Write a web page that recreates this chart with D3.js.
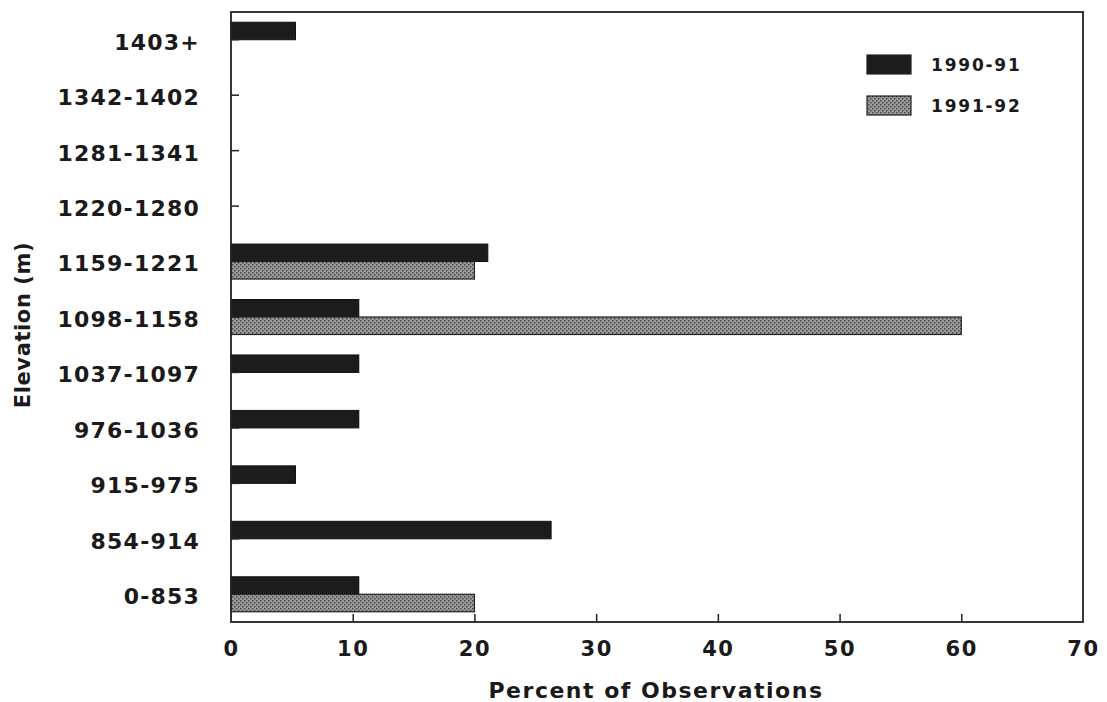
<!DOCTYPE html>
<html><head><meta charset="utf-8">
<script src="https://cdn.jsdelivr.net/npm/d3@7"></script>
<style>
html,body{margin:0;padding:0;background:#fff;}
text{font-family:"DejaVu Sans",sans-serif;font-weight:bold;fill:#1a1a1a;}
</style></head>
<body><svg id="c" width="1107" height="702"></svg>
<script>
const categories = ["1403+","1342-1402","1281-1341","1220-1280","1159-1221","1098-1158","1037-1097","976-1036","915-975","854-914","0-853"];
const series1Name = "1990-91";
const series2Name = "1991-92";
const values1990 = [5.3, 0, 0, 0, 21.1, 10.5, 10.5, 10.5, 5.3, 26.3, 10.5];
const values1991 = [0, 0, 0, 0, 20, 60, 0, 0, 0, 0, 20];
const xTicks = [0,10,20,30,40,50,60,70];

const svg = d3.select("#c");
const L = 231, R = 1083, T = 12, B = 622;
const x = d3.scaleLinear().domain([0,70]).range([L,R]);
const y = d3.scaleBand().domain(categories).range([T,B]);
const barH = 17.5;

const defs = svg.append("defs");
const pat = defs.append("pattern").attr("id","hatch").attr("patternUnits","userSpaceOnUse")
  .attr("width",4).attr("height",4);
pat.append("rect").attr("width",4).attr("height",4).attr("fill","#9a9a9a");
pat.append("rect").attr("x",0).attr("y",0).attr("width",1.5).attr("height",1.5).attr("fill","#4a4a4a");
pat.append("rect").attr("x",2).attr("y",2).attr("width",1.5).attr("height",1.5).attr("fill","#4a4a4a");

// bars
const data = categories.map((c,i)=>({c, a:values1990[i], b:values1991[i]}));
const g = svg.append("g");
g.selectAll(".b1").data(data.filter(d=>d.a>0)).join("rect")
  .attr("x",x(0)).attr("y",d=>y(d.c)+y.bandwidth()/2-barH)
  .attr("width",d=>x(d.a)-x(0)).attr("height",barH)
  .attr("fill","#1c1c1c").attr("stroke","#111").attr("stroke-width",1);
g.selectAll(".b2").data(data.filter(d=>d.b>0)).join("rect")
  .attr("x",x(0)).attr("y",d=>y(d.c)+y.bandwidth()/2)
  .attr("width",d=>x(d.b)-x(0)).attr("height",barH)
  .attr("fill","url(#hatch)").attr("stroke","#222").attr("stroke-width",1.2);

// frame
svg.append("rect").attr("x",L).attr("y",T).attr("width",R-L).attr("height",B-T)
  .attr("fill","none").attr("stroke","#222").attr("stroke-width",1.8);

// x axis
const xa = svg.append("g").attr("transform",`translate(0,${B})`)
  .call(d3.axisBottom(x).tickValues(xTicks).tickSize(-8).tickPadding(19).tickFormat(d3.format("d")));
xa.select(".domain").remove();
xa.selectAll(".tick line").attr("stroke","#222").attr("stroke-width",1.5)
  .filter(d=>d===0||d===70).remove();
xa.selectAll(".tick text").attr("font-size","21px").style("letter-spacing","1.6px").attr("fill","#1a1a1a").attr("dy","0.72em");

// y axis
const ya = svg.append("g").attr("transform",`translate(${L},0)`)
  .call(d3.axisLeft(y).tickSize(-8).tickPadding(31));
ya.select(".domain").remove();
ya.selectAll(".tick line").attr("stroke","#222").attr("stroke-width",1.5);
ya.selectAll(".tick text").attr("font-size","22px").style("letter-spacing","1.2px").attr("fill","#1a1a1a").attr("dy","0.45em");

// axis titles
svg.append("text").attr("x",656).attr("y",698).attr("text-anchor","middle")
  .attr("font-size","22px").style("letter-spacing","1.5px").text("Percent of Observations");
svg.append("text").attr("transform","translate(30,325) rotate(-90)").attr("text-anchor","middle")
  .attr("font-size","21px").style("letter-spacing","0.6px").text("Elevation (m)");

// legend
const leg = svg.append("g");
const items = [{n:series1Name, f:"#1c1c1c", y0:55},{n:series2Name, f:"url(#hatch)", y0:96}];
items.forEach(it=>{
  leg.append("rect").attr("x",867).attr("y",it.y0).attr("width",44).attr("height",19)
    .attr("fill",it.f).attr("stroke","#222").attr("stroke-width",1.2);
  leg.append("text").attr("x",931).attr("y",it.y0+16).attr("font-size","17px")
    .style("letter-spacing","1.8px").text(it.n);
});
</script></body></html>
